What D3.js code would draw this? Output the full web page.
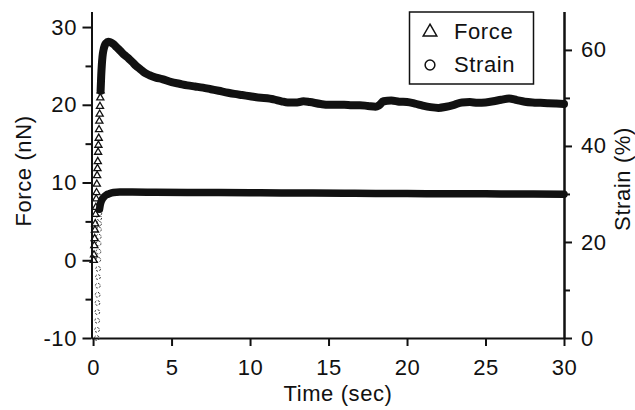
<!DOCTYPE html>
<html>
<head>
<meta charset="utf-8">
<script src="https://cdn.jsdelivr.net/npm/d3@7"></script>
<style>
  body { margin: 0; background: #fff; }
  svg text { font-family: "Liberation Sans", Arial, Helvetica, sans-serif; fill: #111; }
</style>
</head>
<body>
<svg id="chart" width="635" height="410"></svg>
<script>
// Force (nN) vs time (sec): rising samples, where each triangle shows on its own
var forceRise = [
    [0.04, 0.0], [0.06, 0.7], [0.08, 1.9], [0.10, 2.8], [0.12, 3.9], [0.14, 4.7],
    [0.16, 5.9], [0.18, 6.8], [0.20, 7.9], [0.22, 8.7], [0.24, 9.8], [0.26, 10.9],
    [0.28, 11.8], [0.30, 12.7], [0.32, 13.9], [0.34, 14.8], [0.36, 15.7], [0.38, 16.8],
    [0.40, 17.9], [0.42, 18.8], [0.44, 19.8], [0.46, 20.9], [0.48, 21.8]
];
// Force after the rise, where the markers merge into one heavy trace
var forceHold = [
    [0.48, 21.8], [0.52, 23.8], [0.56, 25.2], [0.60, 26.2], [0.66, 27.0], [0.74, 27.6],
    [0.84, 27.95], [0.96, 28.1], [1.1, 28.05], [1.3, 27.8], [1.5, 27.4], [1.75, 26.9],
    [2.0, 26.4], [2.25, 26.0], [2.5, 25.5], [2.75, 25.0], [3.0, 24.6], [3.3, 24.1],
    [3.6, 23.8], [4.0, 23.5], [4.4, 23.3], [5.0, 22.9], [5.5, 22.7], [6.0, 22.5],
    [6.5, 22.35], [7.0, 22.2], [7.5, 22.0], [8.0, 21.8], [8.6, 21.55], [9.0, 21.4],
    [9.5, 21.25], [10.0, 21.1], [10.7, 20.9], [11.1, 20.85], [11.5, 20.7], [12.0, 20.45],
    [12.4, 20.3], [13.0, 20.3], [13.4, 20.45], [13.8, 20.35], [14.5, 20.1], [15.0, 20.0],
    [15.5, 20.0], [16.0, 20.0], [16.5, 19.95], [17.0, 19.95], [17.5, 19.85], [18.0, 19.75],
    [18.2, 19.9], [18.5, 20.45], [19.0, 20.55], [19.5, 20.4], [20.0, 20.35], [20.5, 20.15],
    [21.0, 19.9], [21.5, 19.7], [22.0, 19.6], [22.5, 19.75], [23.0, 20.0], [23.5, 20.3],
    [24.0, 20.35], [24.5, 20.25], [25.0, 20.3], [25.5, 20.45], [26.0, 20.65], [26.5, 20.8],
    [27.0, 20.6], [27.5, 20.4], [28.0, 20.3], [28.5, 20.25], [29.0, 20.2], [29.5, 20.15],
    [30.0, 20.1]
];
// Strain (%) vs time (sec)
var strainRise = [
    [0.24, 0.0], [0.25, 1.7], [0.26, 3.6], [0.27, 5.4], [0.28, 7.3], [0.29, 9.0],
    [0.30, 10.9], [0.31, 12.7], [0.32, 14.4], [0.33, 16.3], [0.34, 18.0], [0.35, 19.7],
    [0.36, 21.1], [0.37, 22.6], [0.38, 23.8], [0.39, 25.0], [0.40, 26.0], [0.41, 26.8]
];
var strainHold = [
    [0.41, 26.8], [0.46, 27.8], [0.52, 28.5], [0.60, 29.0], [0.70, 29.4], [0.85, 29.8],
    [1.0, 30.0], [1.3, 30.3], [1.7, 30.4], [2.5, 30.4], [4.0, 30.35], [6.0, 30.3],
    [8.0, 30.3], [10.0, 30.25], [12.0, 30.2], [14.0, 30.2], [16.0, 30.15], [18.0, 30.1],
    [20.0, 30.1], [22.0, 30.05], [24.0, 30.05], [26.0, 30.0], [28.0, 30.0], [30.0, 29.95]
];

var timeTicks = [0, 5, 10, 15, 20, 25, 30];
var forceTicks = [-10, 0, 10, 20, 30];
var forceMinorTicks = [-5, 5, 15, 25];
var strainTicks = [0, 20, 40, 60];
var strainMinorTicks = [10, 30, 50];
var legendItems = ["Force", "Strain"];

//------------------------------------------------------------------------------
// Scales
//------------------------------------------------------------------------------
var svg = d3.select("#chart");

var x = d3.scaleLinear().domain([-0.1, 30]).range([91.5, 564]);
var yForce = d3.scaleLinear().domain([-10, 32]).range([338, 11.5]);
var yStrain = d3.scaleLinear().domain([0, 68]).range([338, 11.5]);

// plain hyphen for negatives, as in the original figure
function plain(d) { return String(d); }

//------------------------------------------------------------------------------
// Axes
//------------------------------------------------------------------------------
function styleAxis(g) {
    g.attr("font-size", 22)
        .attr("font-family", null)
        .style("letter-spacing", "0.6px");
    g.select(".domain").attr("stroke", "#111").attr("stroke-width", 2);
    g.selectAll(".tick line").attr("stroke", "#111").attr("stroke-width", 2);
    g.selectAll(".tick text").attr("fill", "#111");
}

svg.append("g")
    .attr("transform", "translate(0,338)")
    .call(d3.axisBottom(x).tickValues(timeTicks).tickFormat(plain)
        .tickSize(8).tickSizeOuter(0).tickPadding(13.4))
    .call(styleAxis);

svg.append("g")
    .attr("transform", "translate(91.5,0)")
    .call(d3.axisLeft(yForce).tickValues(forceTicks).tickFormat(plain)
        .tickSize(9).tickSizeOuter(0).tickPadding(5.5))
    .call(styleAxis);

svg.append("g")
    .attr("transform", "translate(91.5,0)")
    .call(d3.axisLeft(yForce).tickValues(forceMinorTicks).tickSize(6).tickSizeOuter(0).tickFormat(""))
    .call(styleAxis);

svg.append("g")
    .attr("transform", "translate(564,0)")
    .call(d3.axisRight(yStrain).tickValues(strainTicks).tickFormat(plain)
        .tickSize(8).tickSizeOuter(0).tickPadding(9))
    .call(styleAxis);

svg.append("g")
    .attr("transform", "translate(564,0)")
    .call(d3.axisRight(yStrain).tickValues(strainMinorTicks).tickSize(6).tickSizeOuter(0).tickFormat(""))
    .call(styleAxis);

//------------------------------------------------------------------------------
// Axis titles
//------------------------------------------------------------------------------
svg.append("text")
    .attr("x", 338)
    .attr("y", 401)
    .attr("text-anchor", "middle")
    .attr("font-size", 22)
    .style("letter-spacing", "0.6px")
    .text("Time (sec)");

svg.append("text")
    .attr("transform", "translate(31,171) rotate(-90)")
    .attr("text-anchor", "middle")
    .attr("font-size", 22)
    .style("letter-spacing", "0.6px")
    .text("Force (nN)");

svg.append("text")
    .attr("transform", "translate(630,179) rotate(-90)")
    .attr("text-anchor", "middle")
    .attr("font-size", 22)
    .style("letter-spacing", "0.6px")
    .text("Strain (%)");

//------------------------------------------------------------------------------
// Data: heavy traces where samples overlap, open markers where they don't
//------------------------------------------------------------------------------
var forceLine = d3.line()
    .x(function(d) { return x(d[0]); })
    .y(function(d) { return yForce(d[1]); })
    .curve(d3.curveMonotoneX);

var strainLine = d3.line()
    .x(function(d) { return x(d[0]); })
    .y(function(d) { return yStrain(d[1]); })
    .curve(d3.curveMonotoneX);

var triangle = d3.symbol().type(d3.symbolTriangle).size(22);
var circle = d3.symbol().type(d3.symbolCircle).size(18);

svg.append("g").selectAll("path")
    .data(strainRise)
    .join("path")
    .attr("transform", function(d) { return "translate(" + x(d[0]) + "," + yStrain(d[1]) + ")"; })
    .attr("d", circle)
    .attr("fill", "none")
    .attr("stroke", "#333")
    .attr("stroke-width", 1)
    .attr("stroke-dasharray", "2,1.5");

svg.append("path")
    .datum(strainHold)
    .attr("d", strainLine)
    .attr("fill", "none")
    .attr("stroke", "#111")
    .attr("stroke-width", 7.5)
    .attr("stroke-linejoin", "round")
    .attr("stroke-linecap", "round");

svg.append("g").selectAll("path")
    .data(forceRise)
    .join("path")
    .attr("transform", function(d) { return "translate(" + x(d[0]) + "," + yForce(d[1]) + ")"; })
    .attr("d", triangle)
    .attr("fill", "none")
    .attr("stroke", "#111")
    .attr("stroke-width", 1.3);

svg.append("path")
    .datum(forceHold)
    .attr("d", forceLine)
    .attr("fill", "none")
    .attr("stroke", "#111")
    .attr("stroke-width", 8)
    .attr("stroke-linejoin", "round")
    .attr("stroke-linecap", "round");

//------------------------------------------------------------------------------
// Legend
//------------------------------------------------------------------------------
var legend = svg.append("g");

legend.append("rect")
    .attr("x", 409.5)
    .attr("y", 12)
    .attr("width", 124)
    .attr("height", 72)
    .attr("fill", "#fff")
    .attr("stroke", "#111")
    .attr("stroke-width", 1.5);

var legendSymbols = [d3.symbol().type(d3.symbolTriangle).size(80), d3.symbol().type(d3.symbolCircle).size(75)];

legendItems.forEach(function(name, i) {
    var cy = 32 + i * 33;
    legend.append("path")
        .attr("transform", "translate(430," + cy + ")")
        .attr("d", legendSymbols[i])
        .attr("fill", "none")
        .attr("stroke", "#111")
        .attr("stroke-width", 1.5);
    legend.append("text")
        .attr("x", 454)
        .attr("y", cy + 7)
        .attr("font-size", 22)
        .style("letter-spacing", "0.6px")
        .text(name);
});
</script>
</body>
</html>
